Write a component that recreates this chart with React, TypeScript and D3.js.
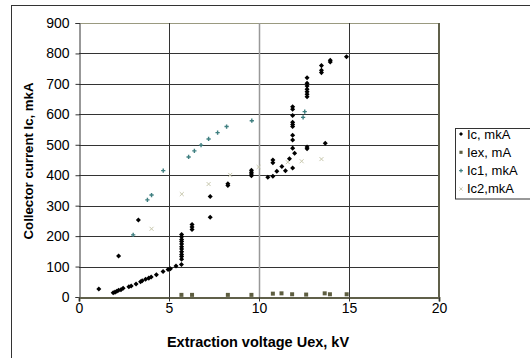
import React, { useEffect, useRef } from 'react';
import * as d3 from 'd3';

// Ic, mkA  [Uex kV, current]
const icX = [1.1, 2.2, 3.3, 1.9, 2.0, 2.1, 2.2, 2.33, 2.45, 2.77, 2.9, 3.17, 3.42, 3.51, 3.7, 3.88, 4.01, 4.3, 4.67, 4.95, 5.08, 5.39, 5.69,
	5.7, 5.7, 5.7, 5.7, 5.7, 5.7, 5.7, 5.7, 5.7, 5.7, 5.7,
	6.28, 6.28, 6.28, 7.29, 7.29, 8.27, 8.27, 9.58, 9.58, 9.58, 9.58,
	10.49, 10.77, 10.99, 10.77, 10.77, 11.27, 11.47, 11.69, 11.87, 11.98,
	11.87, 11.87, 11.87, 11.87, 11.87, 11.87, 11.87, 11.87, 11.87,
	12.67, 12.67, 13.68,
	12.67, 12.67, 12.67, 12.67, 12.67, 12.67, 12.67,
	13.47, 13.47, 13.47, 13.96, 13.96, 14.86];
const icY = [26, 135, 253, 14, 16, 19, 22, 24, 29, 34, 36, 43, 50, 53, 58, 62, 66, 73, 84, 90, 93, 102, 107,
	205, 198, 189, 182, 174, 165, 158, 149, 140, 133, 124,
	238, 230, 222, 330, 262, 372, 366, 416, 410, 404, 398,
	393, 397, 413, 450, 441, 429, 415, 454, 424, 472,
	625, 617, 596, 574, 567, 560, 531, 516, 489,
	493, 487, 505,
	720, 702, 693, 682, 674, 666, 658,
	760, 745, 737, 778, 772, 789];

// Iex, mA
const iexX = [5.69, 6.28, 8.27, 9.58, 10.77, 11.25, 11.84, 12.62, 13.65, 13.94, 14.87];
const iexY = [7, 7, 7, 7, 11, 12, 9, 8, 12, 9, 9];

// Ic1, mkA
const ic1X = [3.01, 3.8, 4.03, 4.68, 6.09, 6.41, 6.78, 7.2, 7.7, 8.2, 9.6, 12.45, 12.54];
const ic1Y = [204, 319, 335, 415, 460, 480, 499, 519, 540, 560, 579, 590, 609];

// Ic2,mkA
const ic2X = [4.03, 5.71, 7.2, 8.4, 9.98, 11.6, 12.37, 13.47];
const ic2Y = [224, 338, 371, 401, 427, 443, 446, 453];

const xTicks = [0, 5, 10, 15, 20];
const yTicks = [0, 100, 200, 300, 400, 500, 600, 700, 800, 900];
const seriesNames = ['Ic, mkA', 'Iex, mA', 'Ic1, mkA', 'Ic2,mkA'];

export default function App() {
	const ref = useRef<SVGSVGElement>(null);

	useEffect(() => {
		const el = ref.current;
		if (!el) return;
		const svg = d3.select(el);
		svg.selectAll('*').remove();

		const font = 'Liberation Sans, Arial, sans-serif';
		const left = 79, right = 439, top = 23, bottom = 297;
		const x = d3.scaleLinear().domain([0, 20]).range([left, right]);
		const y = d3.scaleLinear().domain([0, 900]).range([bottom, top]);

		svg.append('rect')
			.attr('x', 11.5).attr('y', 5.5).attr('width', 540).attr('height', 370)
			.attr('fill', '#fff').attr('stroke', '#333').attr('stroke-width', 1);

		// grid
		svg.append('g').selectAll('line').data(yTicks.slice(1)).enter().append('line')
			.attr('x1', left).attr('x2', right)
			.attr('y1', d => Math.round(y(d)) + 0.5).attr('y2', d => Math.round(y(d)) + 0.5)
			.attr('stroke', d => d === 900 ? '#9a9a80' : '#333');
		svg.append('g').selectAll('line').data(xTicks.slice(1, 4)).enter().append('line')
			.attr('y1', top).attr('y2', bottom)
			.attr('x1', d => Math.round(x(d)) + 0.5).attr('x2', d => Math.round(x(d)) + 0.5)
			.attr('stroke', d => d === 10 ? '#999' : '#333')
			.attr('stroke-width', d => d === 10 ? 1.5 : 1);
		svg.append('line')
			.attr('x1', right).attr('x2', right).attr('y1', top).attr('y2', bottom + 1)
			.attr('stroke', '#60604a').attr('stroke-width', 2);

		// axes
		const yAxis = svg.append('g').attr('transform', `translate(${left + 0.5},0)`)
			.call(d3.axisLeft(y).tickValues(yTicks).tickSize(4).tickPadding(6));
		yAxis.select('.domain').attr('stroke', '#333');
		yAxis.selectAll('line').attr('stroke', '#333');
		yAxis.selectAll('text').style('font-size', '14px').style('font-family', font).attr('fill', '#000');

		const xAxis = svg.append('g').attr('transform', `translate(0,${bottom + 0.5})`)
			.call(d3.axisBottom(x).tickValues(xTicks).tickSize(4).tickPadding(2));
		xAxis.select('.domain').attr('stroke', '#60604a').attr('stroke-width', 2);
		xAxis.selectAll('line').attr('stroke', '#333');
		xAxis.selectAll('text').style('font-size', '14px').style('font-family', font).attr('fill', '#000');

		svg.append('text')
			.attr('x', 258).attr('y', 347)
			.attr('text-anchor', 'middle')
			.style('font-size', '14.5px').style('font-weight', 'bold').style('font-family', font)
			.text('Extraction voltage Uex, kV');
		svg.append('text')
			.attr('transform', `translate(33,161) rotate(-90)`)
			.attr('text-anchor', 'middle')
			.style('font-size', '13.2px').style('font-weight', 'bold').style('font-family', font)
			.text('Collector current Ic, mkA');

		// markers
		const diamond = d3.symbol().type(d3.symbolDiamond2).size(16);
		const square = d3.symbol().type(d3.symbolSquare).size(16);
		const plus = d3.symbol().type(d3.symbolCross).size(10);
		const xmark = d3.symbol().type(d3.symbolTimes).size(12);

		const ic2 = ic2X.map((v, i) => [v, ic2Y[i]]);
		svg.append('g').selectAll('path').data(ic2).enter().append('path')
			.attr('d', xmark()).attr('transform', d => `translate(${x(d[0])},${y(d[1])})`)
			.attr('fill', 'none').attr('stroke', '#c8c8ae').attr('stroke-width', 1);

		const ic1 = ic1X.map((v, i) => [v, ic1Y[i]]);
		svg.append('g').selectAll('path').data(ic1).enter().append('path')
			.attr('d', plus()).attr('transform', d => `translate(${x(d[0])},${y(d[1])})`)
			.attr('fill', '#3f7f80');

		const iex = iexX.map((v, i) => [v, iexY[i]]);
		svg.append('g').selectAll('path').data(iex).enter().append('path')
			.attr('d', square()).attr('transform', d => `translate(${x(d[0])},${y(d[1])})`)
			.attr('fill', '#5e5e40');

		const ic = icX.map((v, i) => [v, icY[i]]);
		svg.append('g').selectAll('path').data(ic).enter().append('path')
			.attr('d', diamond()).attr('transform', d => `translate(${x(d[0])},${y(d[1])})`)
			.attr('fill', '#000');

		// legend
		const lg = svg.append('g');
		lg.append('rect').attr('x', 455.5).attr('y', 128.5).attr('width', 80).attr('height', 70.5)
			.attr('fill', '#fff').attr('stroke', '#333');
		const symbols = [
			{ d: d3.symbol().type(d3.symbolDiamond2).size(10)(), fill: '#000', stroke: 'none' },
			{ d: d3.symbol().type(d3.symbolSquare).size(10)(), fill: '#5e5e40', stroke: 'none' },
			{ d: d3.symbol().type(d3.symbolCross).size(8)(), fill: '#3f7f80', stroke: 'none' },
			{ d: d3.symbol().type(d3.symbolTimes).size(8)(), fill: 'none', stroke: '#c8c8ae' }
		];
		seriesNames.forEach((name, i) => {
			const cy = 134 + i * 18.3;
			lg.append('path').attr('d', symbols[i].d).attr('transform', `translate(461,${cy})`)
				.attr('fill', symbols[i].fill).attr('stroke', symbols[i].stroke);
			lg.append('text').attr('x', 467).attr('y', cy + 4.5)
				.style('font-size', '13px').style('font-family', font)
				.text(name);
		});
	}, []);

	return <svg ref={ref} width={530} height={358} style={{ position: 'absolute', left: 0, top: 0, background: '#fff' }} />;
}
